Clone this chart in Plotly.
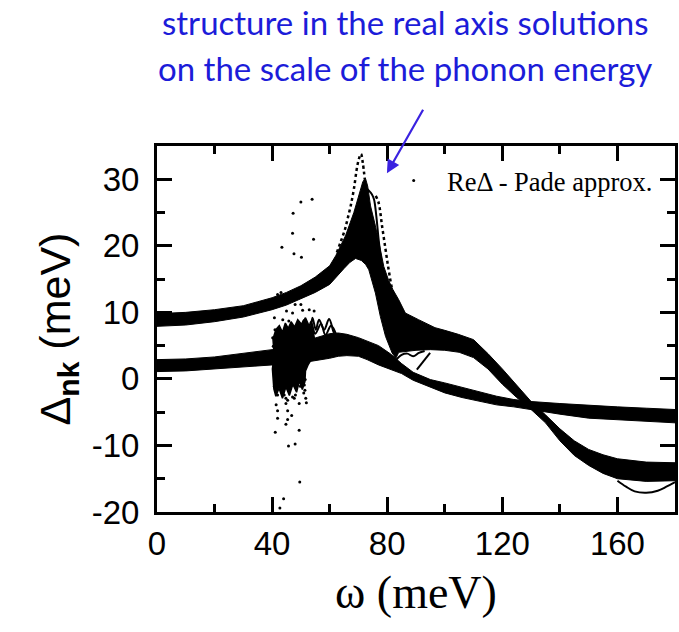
import plotly.graph_objects as go

# ---------------- data ----------------
# Band A (upper band of curves): upper edge and lower (inner) edge
omega_A_up = [0, 10, 20, 30, 35, 40, 45, 50, 55, 60, 62.1, 65.5, 68.4, 70.5, 71.5, 72.4, 73.2,
              74.2, 75.9, 77.6, 78.8, 80.5, 82.0, 84.0, 86.3, 90.9, 96.6, 100, 104.7, 110,
              115, 120, 125, 130, 135, 140, 145, 150, 155, 160, 170, 180]
A_up = [9.8, 10.0, 10.4, 11.0, 11.6, 12.2, 13.0, 14.0, 15.3, 17.0, 18.5, 21.5, 25.0, 28.3, 29.6, 30.2, 29.0,
        26.0, 23.0, 19.5, 16.9, 14.8, 13.4, 11.9, 9.9, 8.9, 7.7, 7.3, 6.7, 5.9,
        3.8, 1.5, -1.0, -3.4, -5.4, -7.5, -9.3, -10.6, -11.4, -12.0, -12.5, -12.6]

omega_A_lo = [0, 10, 20, 30, 35, 40, 45, 50, 55, 60, 63, 65, 67, 69, 71, 72.5, 73.6,
              75.9, 77.6, 79.4, 81.7, 83.0, 84, 90, 95, 100, 105, 110, 115, 120, 125,
              130, 135, 140, 145, 150, 155, 160, 170, 180]
A_lo = [7.9, 8.1, 8.6, 9.3, 9.9, 10.4, 11.1, 12.0, 13.0, 14.2, 15.6, 16.6, 17.5, 18.1, 17.8, 17.2, 16.4,
        12.9, 9.4, 6.4, 3.9, 3.1, 4.0, 4.3, 4.4, 4.3, 4.0, 3.2, 1.5, -0.8, -2.8,
        -4.6, -6.6, -9.3, -11.5, -13.0, -14.2, -15.0, -15.4, -15.3]

# Band B (lower band of curves)
omega_B = [0, 10, 20, 30, 40, 50, 55, 60, 63, 66, 70, 73, 77, 81, 85, 89, 95, 100,
           106, 112, 118, 124, 130, 140, 150, 160, 170, 180]
B_up = [2.9, 3.0, 3.3, 3.8, 4.4, 5.5, 6.2, 6.8, 6.9, 6.7, 6.2, 5.7, 5.0, 3.8, 2.3, 1.0, -0.1, -0.6,
        -1.3, -1.9, -2.6, -3.1, -3.4, -3.7, -4.0, -4.2, -4.4, -4.6]
B_lo = [1.1, 1.2, 1.5, 1.8, 2.1, 2.4, 2.8, 3.1, 3.4, 3.5, 3.4, 2.9, 2.1, 1.4, 0.8, -0.2, -1.2, -2.1,
        -2.8, -3.4, -3.9, -4.2, -4.6, -5.3, -5.9, -6.2, -6.4, -6.6]

# dense noisy region near 40-53 meV (irregular outline)
omega_blob = [40.6, 40.1, 40.7, 40.3, 41.3, 42.5, 43.6, 44.6, 45.6, 46.6, 47.8, 48.9, 50.2, 51.6,
              52.8, 54.2, 55.0, 54.0, 52.6, 51.6, 51.4, 50.5, 49.5, 48.5, 47.2, 46.0, 44.8, 43.6,
              42.4, 41.3]
blob = [-1.5, 1.5, 3.6, 6.0, 7.4, 8.0, 7.0, 8.4, 7.6, 8.6, 7.8, 8.9, 8.2, 9.2,
        8.0, 7.4, 5.2, 3.2, 2.2, 1.2, -0.4, -1.6, -0.3, -2.0, -0.8, -2.5, -1.2, -2.9,
        -1.4, -2.6]

# oscillating curves on top of band B
omega_wig1 = [50.5, 52.0, 52.9, 54.0, 55.2, 56.3, 58.1, 59.8, 61.5, 62.7, 64.0]
wig1 = [5.5, 6.5, 5.9, 9.2, 7.4, 8.9, 7.4, 9.0, 6.9, 6.2, 6.6]
omega_wig2 = [49.5, 51.0, 52.5, 53.5, 55.0, 57.0, 58.5, 60.5, 62.5]
wig2 = [6.0, 8.8, 7.0, 8.6, 6.8, 8.3, 6.6, 8.0, 6.4]

# dotted spike and side curves near the phonon energy
omega_dot1 = [62.5, 64.0, 65.2, 66.2, 67.3, 68.4, 69.6, 70.4, 70.9, 71.5, 72.2]
dot1 = [19.0, 20.8, 22.3, 24.0, 26.0, 28.5, 32.0, 33.4, 33.8, 32.5, 30.0]
omega_dot2 = [76.0, 77.0, 78.2, 79.4, 80.5, 81.7, 83.0, 84.5]
dot2 = [27.5, 26.5, 23.0, 19.5, 16.4, 13.5, 11.5, 10.2]
omega_loop = [72.8, 73.8, 74.6, 75.4, 76.2, 77.0, 77.8]
loop = [28.6, 28.2, 27.8, 27.0, 24.5, 21.0, 18.0]

# thin stray curves
omega_s1 = [83.0, 85.0, 87.0, 89.0, 91.0, 93.0]
s1 = [2.8, 3.6, 3.8, 3.4, 3.9, 4.2]
omega_s2 = [90.3, 94.9]
s2 = [1.4, 3.9]
omega_s3 = [160, 163, 166, 170, 174, 177, 180]
s3 = [-15.3, -16.2, -16.9, -17.1, -16.8, -16.2, -15.5]

# isolated points
omega_pts = [50.0, 53.9, 47.3, 47.1, 54.4, 43.4, 47.6, 50.2, 89.2,
             43.1, 41.9, 48.0, 50.0, 45.0, 47.1, 50.6, 52.9, 54.6, 40.8, 43.7, 45.8, 41.0,
             40.2, 40.4, 40.2, 40.8, 41.3, 42.4, 40.8, 43.7, 45.8, 48.1, 49.8, 51.0, 51.5, 47.1, 44.8,
             42.5, 44.2, 46.5, 49.4, 51.2, 51.4, 41.9, 44.2, 45.4, 47.7, 51.7, 41.4, 44.8, 49.4, 51.9,
             41.9, 45.4, 46.8, 41.9, 45.4, 44.8, 41.1, 49.4, 48.0, 45.7, 49.6, 44.0, 42.7]
val_pts = [26.6, 27.0, 24.9, 21.9, 21.0, 19.8, 18.8, 18.3, 29.8,
           13.0, 12.7, 11.2, 11.2, 10.2, 9.9, 10.3, 10.4, 10.2, 9.2, 8.9, 8.7, 7.4,
           6.2, 4.9, 3.4, 1.6, 0.4, -1.1, -1.1, -2.1, -1.6, -2.4, -1.1, -2.1, -0.1, -2.7, -2.9,
           -0.7, -0.6, -1.1, -0.4, -0.9, -1.7, -2.4, -2.4, -3.2, -2.9, -2.9, -3.9, -3.7, -3.7, -3.6,
           -4.8, -4.8, -5.5, -5.9, -6.1, -6.8, -8.0, -7.7, -9.8, -10.1, -15.5, -18.0, -19.4]

x_ticks = [0, 40, 80, 120, 160]
y_ticks = [-20, -10, 0, 10, 20, 30]

# ---------------- figure ----------------
fig = go.Figure()

def band(xu, yu, xl, yl):
    return go.Scatter(x=list(xu) + list(xl)[::-1], y=list(yu) + list(yl)[::-1],
                      fill="toself", fillcolor="black", mode="lines",
                      line=dict(color="black", width=1), hoverinfo="skip", showlegend=False)

fig.add_trace(band(omega_A_up, A_up, omega_A_lo, A_lo))
fig.add_trace(band(omega_B, B_up, omega_B, B_lo))
fig.add_trace(go.Scatter(x=omega_blob + omega_blob[:1], y=blob + blob[:1], fill="toself",
                         fillcolor="black", mode="lines", line=dict(color="black", width=1.5),
                         showlegend=False))
for xs, ys in [(omega_wig1, wig1), (omega_wig2, wig2), (omega_loop, loop),
               (omega_s1, s1), (omega_s2, s2), (omega_s3, s3)]:
    fig.add_trace(go.Scatter(x=xs, y=ys, mode="lines", line=dict(color="black", width=2),
                             line_shape="spline", showlegend=False))
for xs, ys in [(omega_dot1, dot1), (omega_dot2, dot2)]:
    fig.add_trace(go.Scatter(x=xs, y=ys, mode="lines", line=dict(color="black", width=2.5, dash="dot"),
                             line_shape="spline", showlegend=False))
fig.add_trace(go.Scatter(x=omega_pts, y=val_pts, mode="markers",
                         marker=dict(color="black", size=3), showlegend=False))

axis_common = dict(showline=True, linewidth=3, linecolor="black", mirror="allticks",
                   ticks="inside", ticklen=15, tickwidth=3, tickcolor="black",
                   showgrid=False, zeroline=False,
                   tickfont=dict(family="Liberation Sans, Arial", size=33, color="black"))

fig.update_xaxes(range=[0, 180], tickvals=x_ticks, ticktext=[str(v) for v in x_ticks],
                 minor=dict(ticks="inside", ticklen=8, tickwidth=3, tickcolor="black", dtick=20,
                            tick0=0, showgrid=False),
                 title=dict(text="ω (meV)", font=dict(family="Liberation Serif, Times New Roman",
                                                      size=46, color="black"), standoff=16),
                 **axis_common)
fig.update_yaxes(range=[-20, 35], tickvals=y_ticks, ticktext=[str(v) for v in y_ticks],
                 ticklabelstandoff=8,
                 minor=dict(ticks="inside", ticklen=8, tickwidth=3, tickcolor="black", dtick=5,
                            tick0=0, showgrid=False),
                 title=dict(text="Δ<sub><b>nk</b></sub> (meV)",
                            font=dict(family="Liberation Sans, Arial", size=43, color="black"),
                            standoff=8),
                 **axis_common)

blue = "#1c1cd9"
fig.add_annotation(xref="paper", yref="paper", x=0.478, y=1.339, text="structure in the real axis solutions",
                   showarrow=False, font=dict(family="Lato", size=33, color=blue),
                   xanchor="center", yanchor="middle")
fig.add_annotation(xref="paper", yref="paper", x=0.478, y=1.213, text="on the scale of the phonon energy",
                   showarrow=False, font=dict(family="Lato", size=33, color=blue),
                   xanchor="center", yanchor="middle")
fig.add_annotation(x=79.9, y=30.9, xref="x", yref="y", ax=37, ay=-65, text="",
                   showarrow=True, arrowhead=2, arrowsize=1.2, arrowwidth=2.2, arrowcolor="#3a22e0")
fig.add_annotation(xref="paper", yref="paper", x=0.96, y=0.902, text="ReΔ - Pade approx.",
                   showarrow=False, xanchor="right", yanchor="middle",
                   font=dict(family="Liberation Serif, Times New Roman", size=26.5, color="black"))

fig.update_layout(width=679, height=632, margin=dict(l=157, r=1, t=146, b=120),
                  plot_bgcolor="white", paper_bgcolor="white", showlegend=False)

fig.write_html("out.html")
